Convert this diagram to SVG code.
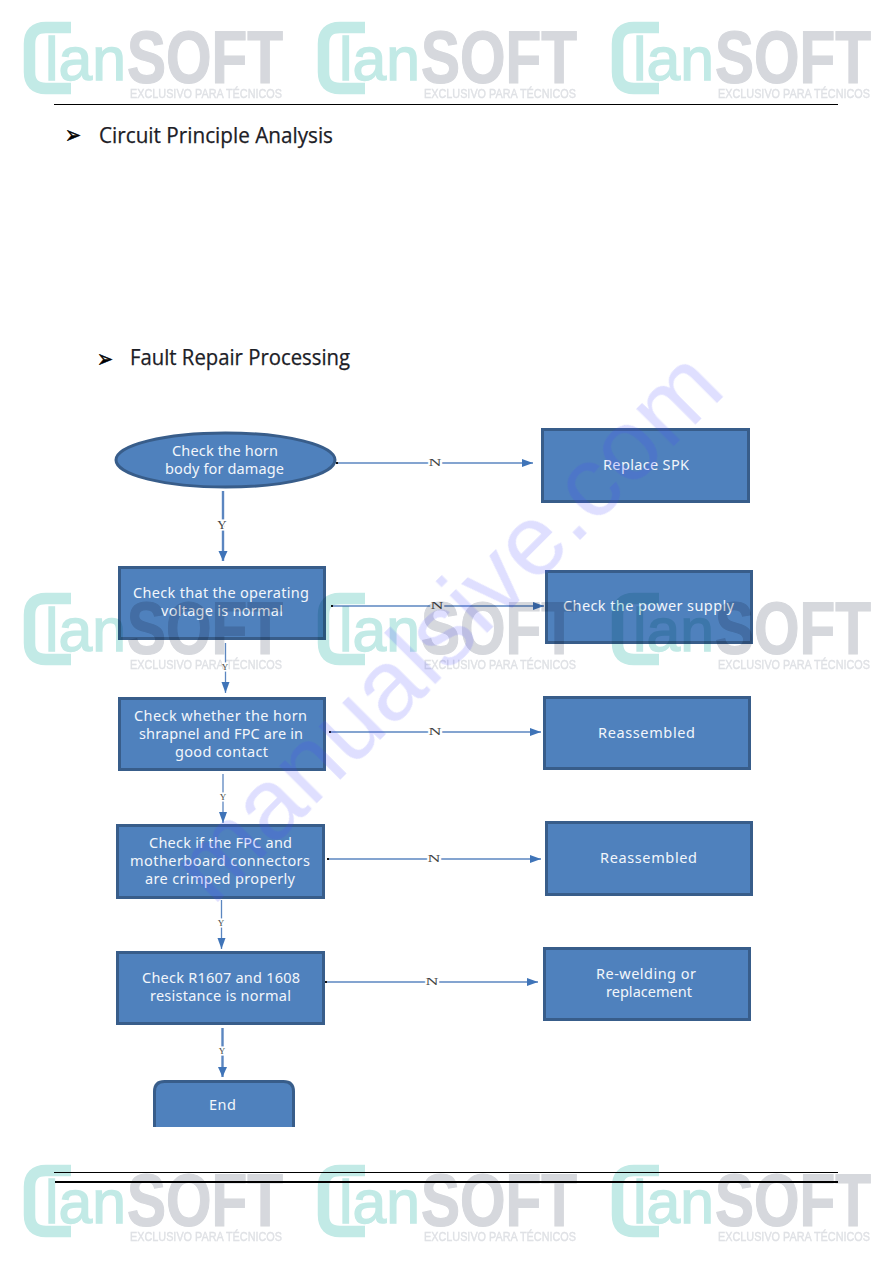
<svg xmlns="http://www.w3.org/2000/svg" xmlns:xlink="http://www.w3.org/1999/xlink" width="893" height="1263" viewBox="0 0 893 1263">
  <style>
    .box { fill: #4f81bd; stroke: #385d8a; stroke-width: 3; }
    .lbl { font-family: "Noto Sans", "Liberation Sans", sans-serif; font-size: 14.5px; fill: #f2f6fb; }
    .head { font-family: "Open Sans", "Liberation Sans", sans-serif; font-size: 21px; fill: #1c2026; stroke: #1c2026; stroke-width: 0.25px; }
    .bullet { font-family: "DejaVu Sans", sans-serif; font-size: 24px; fill: #000; stroke: #000; stroke-width: 0.5px; }
    .flow { stroke: #5b86c0; stroke-width: 1.3; fill: none; marker-end: url(#tip); }
    .flow-wide { stroke-width: 2.4; marker-end: url(#tip-wide); }
    .start { fill: #111; }
    .yn { font-family: "Liberation Serif", serif; font-size: 11px; fill: #444; stroke: #fff; stroke-width: 3px; paint-order: stroke; text-anchor: middle; }
    .yn-big { font-size: 13px; }
    .yn-small { font-size: 9px; }
    .rule { stroke: #000; }
    .logos { mix-blend-mode: multiply; }
    .teal { fill: #c2eae6; stroke: #c2eae6; stroke-width: 1.4px; font-family: "Liberation Sans", sans-serif; font-size: 62px; }
    .bracket { fill: none; stroke: #c2eae6; stroke-width: 11.5; }
    .soft { fill: #d6d8dd; stroke: #d6d8dd; stroke-width: 1.2px; font-family: "Liberation Sans", sans-serif; font-weight: bold; font-size: 74px; }
    .excl { fill: #dfe1e5; stroke: #dfe1e5; stroke-width: 0.4px; font-family: "Liberation Sans", sans-serif; font-size: 13.5px; }
    .stamp { fill: #4040ff; fill-opacity: 0.17; font-family: "Liberation Sans", sans-serif; font-size: 100px; }
  </style>
  <defs>
    <marker id="tip" markerUnits="userSpaceOnUse" markerWidth="12" markerHeight="10" refX="11" refY="4" orient="auto">
      <path d="M0 0 L11 4 L0 8 Z" fill="#3f74b8"/>
    </marker>
    <marker id="tip-wide" markerUnits="userSpaceOnUse" markerWidth="12" markerHeight="10" refX="10" refY="4.5" orient="auto">
      <path d="M0 0 L10 4.5 L0 9 Z" fill="#3f74b8"/>
    </marker>
    <g id="brand">
      <path class="bracket" d="M71 27.5 H46 Q29.5 27.5 29.5 44 V72 Q29.5 88.5 46 88.5 H71"/>
      <text class="teal" x="45" y="80" textLength="81" lengthAdjust="spacingAndGlyphs">lan</text>
      <text class="soft" x="127" y="83" textLength="156" lengthAdjust="spacingAndGlyphs">SOFT</text>
      <text class="excl" x="130" y="98" textLength="152" lengthAdjust="spacingAndGlyphs">EXCLUSIVO PARA TÉCNICOS</text>
    </g>
  </defs>

  <rect width="893" height="1263" fill="#fff"/>

  <!-- page rules and section headings -->
  <line class="rule" x1="54" y1="104.5" x2="838" y2="104.5" stroke-width="1"/>
  <line class="rule" x1="54" y1="1172.5" x2="838" y2="1172.5" stroke-width="1"/>
  <line class="rule" x1="55" y1="1182" x2="838" y2="1182" stroke-width="2"/>
  <text class="bullet" x="65" y="143" textLength="16" lengthAdjust="spacingAndGlyphs">➢</text>
  <text class="head" x="99" y="143" textLength="234" lengthAdjust="spacingAndGlyphs">Circuit Principle Analysis</text>
  <text class="bullet" x="97" y="367" textLength="16" lengthAdjust="spacingAndGlyphs">➢</text>
  <text class="head" x="130" y="365" textLength="220" lengthAdjust="spacingAndGlyphs">Fault Repair Processing</text>

  <!-- connectors -->
  <g id="connectors">
    <line class="flow" x1="336" y1="463" x2="533" y2="463"/>
    <line class="flow" x1="332" y1="606" x2="544" y2="606"/>
    <line class="flow" x1="330" y1="732" x2="541" y2="732"/>
    <line class="flow" x1="328" y1="859" x2="541" y2="859"/>
    <line class="flow" x1="326" y1="982" x2="538" y2="982"/>
    <line class="flow flow-wide" x1="223" y1="491" x2="223" y2="561"/>
    <line class="flow" x1="225.5" y1="643" x2="225.5" y2="693"/>
    <line class="flow" x1="223" y1="774" x2="223" y2="823"/>
    <line class="flow" x1="221.5" y1="900" x2="221.5" y2="949"/>
    <line class="flow flow-wide" x1="222.5" y1="1028" x2="222.5" y2="1077"/>
    <rect class="start" x="336" y="462" width="2" height="2"/>
    <rect class="start" x="331" y="605" width="2" height="2"/>
    <rect class="start" x="329" y="731" width="2" height="2"/>
    <rect class="start" x="327" y="858" width="2" height="2"/>
    <rect class="start" x="325" y="981" width="2" height="2"/>
    <text class="yn" x="435" y="466" textLength="13" lengthAdjust="spacingAndGlyphs">N</text>
    <text class="yn" x="437" y="609" textLength="13" lengthAdjust="spacingAndGlyphs">N</text>
    <text class="yn" x="435" y="735" textLength="13" lengthAdjust="spacingAndGlyphs">N</text>
    <text class="yn" x="434" y="862" textLength="13" lengthAdjust="spacingAndGlyphs">N</text>
    <text class="yn" x="432" y="985" textLength="13" lengthAdjust="spacingAndGlyphs">N</text>
    <text class="yn yn-big" x="222" y="529">Y</text>
    <text class="yn yn-small" x="225" y="670">Y</text>
    <text class="yn yn-small" x="223" y="800">Y</text>
    <text class="yn yn-small" x="221" y="926">Y</text>
    <text class="yn yn-small" x="222" y="1054">Y</text>
  </g>

  <!-- flow nodes -->
  <g id="n-horn">
    <ellipse class="box" cx="225.5" cy="460" rx="109.5" ry="27"/>
    <text class="lbl" x="172" y="456" textLength="106">Check the horn</text>
    <text class="lbl" x="165" y="474" textLength="119">body for damage</text>
  </g>
  <g id="n-spk">
    <rect class="box" x="542.5" y="429.5" width="206" height="72"/>
    <text class="lbl" x="603" y="470" textLength="86">Replace SPK</text>
  </g>
  <g id="n-voltage">
    <rect class="box" x="119.5" y="567.5" width="205" height="71"/>
    <text class="lbl" x="133" y="598" textLength="176">Check that the operating</text>
    <text class="lbl" x="161" y="616" textLength="122">voltage is normal</text>
  </g>
  <g id="n-power">
    <rect class="box" x="546.5" y="571.5" width="205" height="71"/>
    <text class="lbl" x="563" y="611" textLength="171">Check the power supply</text>
  </g>
  <g id="n-shrapnel">
    <rect class="box" x="119.5" y="698.5" width="205" height="71"/>
    <text class="lbl" x="134" y="721" textLength="173">Check whether the horn</text>
    <text class="lbl" x="139" y="739" textLength="164">shrapnel and FPC are in</text>
    <text class="lbl" x="175" y="757" textLength="93">good contact</text>
  </g>
  <g id="n-reassembled-1">
    <rect class="box" x="544.5" y="697.5" width="205" height="71"/>
    <text class="lbl" x="598" y="738" textLength="97">Reassembled</text>
  </g>
  <g id="n-fpc">
    <rect class="box" x="117.5" y="825.5" width="206" height="72"/>
    <text class="lbl" x="149" y="848" textLength="143">Check if the FPC and</text>
    <text class="lbl" x="130" y="866" textLength="180">motherboard connectors</text>
    <text class="lbl" x="145" y="884" textLength="150">are crimped properly</text>
  </g>
  <g id="n-reassembled-2">
    <rect class="box" x="546.5" y="822.5" width="205" height="72"/>
    <text class="lbl" x="600" y="863" textLength="97">Reassembled</text>
  </g>
  <g id="n-resistance">
    <rect class="box" x="117.5" y="952.5" width="206" height="71"/>
    <text class="lbl" x="142" y="983" textLength="158">Check R1607 and 1608</text>
    <text class="lbl" x="150" y="1001" textLength="141">resistance is normal</text>
  </g>
  <g id="n-rewelding">
    <rect class="box" x="544.5" y="948.5" width="205" height="71"/>
    <text class="lbl" x="596" y="979" textLength="100">Re-welding or</text>
    <text class="lbl" x="606" y="997" textLength="86">replacement</text>
  </g>
  <g id="n-end">
    <path class="box" d="M154.5 1127 V1091.5 Q154.5 1081.5 164.5 1081.5 H283.5 Q293.5 1081.5 293.5 1091.5 V1127"/>
    <text class="lbl" x="209" y="1110" textLength="27">End</text>
  </g>

  <!-- repeating brand marks, three rows of three -->
  <g class="logos">
    <use xlink:href="#brand" href="#brand"/>
    <use xlink:href="#brand" href="#brand" x="294"/>
    <use xlink:href="#brand" href="#brand" x="588"/>
    <use xlink:href="#brand" href="#brand" y="571"/>
    <use xlink:href="#brand" href="#brand" x="294" y="571"/>
    <use xlink:href="#brand" href="#brand" x="588" y="571"/>
    <use xlink:href="#brand" href="#brand" y="1143"/>
    <use xlink:href="#brand" href="#brand" x="294" y="1143"/>
    <use xlink:href="#brand" href="#brand" x="588" y="1143"/>
  </g>

  <!-- diagonal site stamp -->
  <text class="stamp" transform="translate(213 907) rotate(-45)" textLength="728">manualsive.com</text>
</svg>
